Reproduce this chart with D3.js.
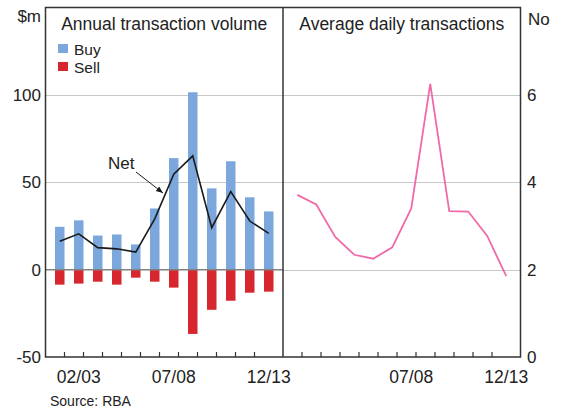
<!DOCTYPE html>
<html>
<head>
<meta charset="utf-8">
<script src="https://cdn.jsdelivr.net/npm/d3@7"></script>
<style>
  body { margin: 0; background: #fff; }
  svg { font-family: "Liberation Sans", Arial, sans-serif; }
</style>
</head>
<body>
<svg id="chart" width="561" height="409"></svg>
<script>
// financial years, 01/02 .. 12/13
const years = ["01/02", "02/03", "03/04", "04/05", "05/06", "06/07",
               "07/08", "08/09", "09/10", "10/11", "11/12", "12/13"];
const xLabels = ["02/03", "07/08", "12/13"];
const xLabelsRight = ["07/08", "12/13"];

// $m
const buy  = [24.5, 28.2, 19.5, 20.1, 14.4, 35.0, 63.8, 101.5, 46.5, 62.0, 41.4, 33.3];
const sell = [-8.6, -8.0, -6.9, -8.6, -4.6, -6.9, -10.3, -36.8, -23.0, -17.8, -13.2, -12.6];
const net  = [16.3, 20.5, 12.6, 11.9, 10.0, 29.1, 54.6, 65.1, 24.0, 44.7, 27.8, 20.7];

// number per day
const daily = [3.71, 3.49, 2.75, 2.34, 2.25, 2.51, 3.40, 6.25, 3.34, 3.33, 2.77, 1.85];

const leftTicks = [-50, 0, 50, 100];
const rightTicks = [0, 2, 4, 6];

const svg = d3.select("#chart");

const plotLeft = 45.5, plotMid = 283, plotRight = 520.5, plotTop = 7.5, plotBottom = 357;

const xL = d3.scaleBand().domain(years).range([plotLeft, plotMid]).padding(0.5);
const xR = d3.scaleBand().domain(years).range([plotMid, plotRight]).padding(0.5);
const yL = d3.scaleLinear().domain([-50, 150]).range([plotBottom, plotTop]);
const yR = d3.scaleLinear().domain([0, 8]).range([plotBottom, plotTop]);

// gridlines
svg.append("g").selectAll("line")
    .data([50, 100])
    .join("line")
    .attr("x1", plotLeft).attr("x2", plotMid)
    .attr("y1", d => Math.round(yL(d)) + 0.5).attr("y2", d => Math.round(yL(d)) + 0.5)
    .attr("stroke", "#c8c8c8").attr("stroke-width", 1.2);

svg.append("g").selectAll("line")
    .data([2, 4, 6])
    .join("line")
    .attr("x1", plotMid).attr("x2", plotRight)
    .attr("y1", d => Math.round(yR(d)) + 0.5).attr("y2", d => Math.round(yR(d)) + 0.5)
    .attr("stroke", "#c8c8c8").attr("stroke-width", 1.2);

// bars
svg.append("g").selectAll("rect")
    .data(years)
    .join("rect")
    .attr("x", d => xL(d))
    .attr("width", xL.bandwidth())
    .attr("y", (d, i) => yL(buy[i]))
    .attr("height", (d, i) => yL(0) - yL(buy[i]))
    .attr("fill", "#7ba7dc");

svg.append("g").selectAll("rect")
    .data(years)
    .join("rect")
    .attr("x", d => xL(d))
    .attr("width", xL.bandwidth())
    .attr("y", yL(0))
    .attr("height", (d, i) => yL(sell[i]) - yL(0))
    .attr("fill", "#d7262e");

// zero line
svg.append("line")
    .attr("x1", plotLeft).attr("x2", plotMid)
    .attr("y1", yL(0)).attr("y2", yL(0))
    .attr("stroke", "#808080").attr("stroke-width", 1.5);

// net line
const netLine = d3.line()
    .x((d, i) => xL(years[i]) + xL.bandwidth() / 2)
    .y(d => yL(d));
svg.append("path")
    .datum(net)
    .attr("d", netLine)
    .attr("fill", "none")
    .attr("stroke", "#1a1a1a")
    .attr("stroke-width", 1.6);

// daily transactions line
const dailyLine = d3.line()
    .x((d, i) => xR(years[i]) + xR.bandwidth() / 2)
    .y(d => yR(d));
svg.append("path")
    .datum(daily)
    .attr("d", dailyLine)
    .attr("fill", "none")
    .attr("stroke", "#f06aa8")
    .attr("stroke-width", 1.8);

// frame + separator
svg.append("rect")
    .attr("x", plotLeft).attr("y", plotTop)
    .attr("width", plotRight - plotLeft).attr("height", plotBottom - plotTop)
    .attr("fill", "none").attr("stroke", "#333").attr("stroke-width", 1.5);
svg.append("line")
    .attr("x1", plotMid).attr("x2", plotMid).attr("y1", plotTop).attr("y2", plotBottom)
    .attr("stroke", "#333").attr("stroke-width", 1.5);

// inner ticks at band edges
const edgeTicks = (scale) => years.slice(1).map(y => scale(y) - scale.step() * scale.padding());
svg.append("g").selectAll("line")
    .data(edgeTicks(xL).concat(edgeTicks(xR)))
    .join("line")
    .attr("x1", d => d).attr("x2", d => d)
    .attr("y1", plotBottom).attr("y2", plotBottom - 5)
    .attr("stroke", "#333").attr("stroke-width", 1.2);

// y tick labels
svg.append("g").selectAll("text")
    .data(leftTicks)
    .join("text")
    .attr("x", 41).attr("y", d => yL(d))
    .attr("dy", "0.36em")
    .attr("text-anchor", "end")
    .attr("font-size", 17)
    .attr("fill", "#222")
    .text(d => d);

svg.append("g").selectAll("text")
    .data(rightTicks)
    .join("text")
    .attr("x", 527).attr("y", d => yR(d))
    .attr("dy", "0.36em")
    .attr("font-size", 17)
    .attr("fill", "#222")
    .text(d => d);

svg.append("text").attr("x", 41).attr("y", 22).attr("text-anchor", "end")
    .attr("font-size", 17).attr("fill", "#222").text("$m");
svg.append("text").attr("x", 528).attr("y", 25)
    .attr("font-size", 17).attr("fill", "#222").text("No");

// x labels
svg.append("g").selectAll("text")
    .data(xLabels)
    .join("text")
    .attr("x", d => xL(d) + xL.bandwidth() / 2)
    .attr("y", 383)
    .attr("text-anchor", "middle")
    .attr("font-size", 17.5).attr("fill", "#222")
    .text(d => d);
svg.append("g").selectAll("text")
    .data(xLabelsRight)
    .join("text")
    .attr("x", d => xR(d) + xR.bandwidth() / 2)
    .attr("y", 383)
    .attr("text-anchor", "middle")
    .attr("font-size", 17.5).attr("fill", "#222")
    .text(d => d);

// panel titles
svg.append("text").attr("x", (plotLeft + plotMid) / 2).attr("y", 30)
    .attr("text-anchor", "middle").attr("font-size", 17.5).attr("fill", "#222")
    .text("Annual transaction volume");
svg.append("text").attr("x", (plotMid + plotRight) / 2).attr("y", 30)
    .attr("text-anchor", "middle").attr("font-size", 17.5).attr("fill", "#222")
    .text("Average daily transactions");

// legend
const legend = [["Buy", "#7ba7dc"], ["Sell", "#d7262e"]];
const lg = svg.append("g").selectAll("g")
    .data(legend)
    .join("g")
    .attr("transform", (d, i) => `translate(58,${44 + i * 18})`);
lg.append("rect").attr("width", 10).attr("height", 9).attr("fill", d => d[1]);
lg.append("text").attr("x", 16).attr("y", 10.5)
    .attr("font-size", 15.5).attr("fill", "#222").text(d => d[0]);

// Net annotation
svg.append("defs").append("marker")
    .attr("id", "arrow")
    .attr("viewBox", "0 0 10 10")
    .attr("refX", 10).attr("refY", 5)
    .attr("markerWidth", 7).attr("markerHeight", 7)
    .attr("orient", "auto")
    .append("path").attr("d", "M0,1 L10,5 L0,9 Z").attr("fill", "#1a1a1a");
svg.append("text").attr("x", 108).attr("y", 168.5)
    .attr("font-size", 17).attr("fill", "#222").text("Net");
svg.append("line")
    .attr("x1", 136).attr("y1", 172).attr("x2", 163).attr("y2", 193)
    .attr("stroke", "#1a1a1a").attr("stroke-width", 1)
    .attr("marker-end", "url(#arrow)");

// source
svg.append("text").attr("x", 50).attr("y", 406)
    .attr("font-size", 14).attr("fill", "#222").text("Source: RBA");
</script>
</body>
</html>
